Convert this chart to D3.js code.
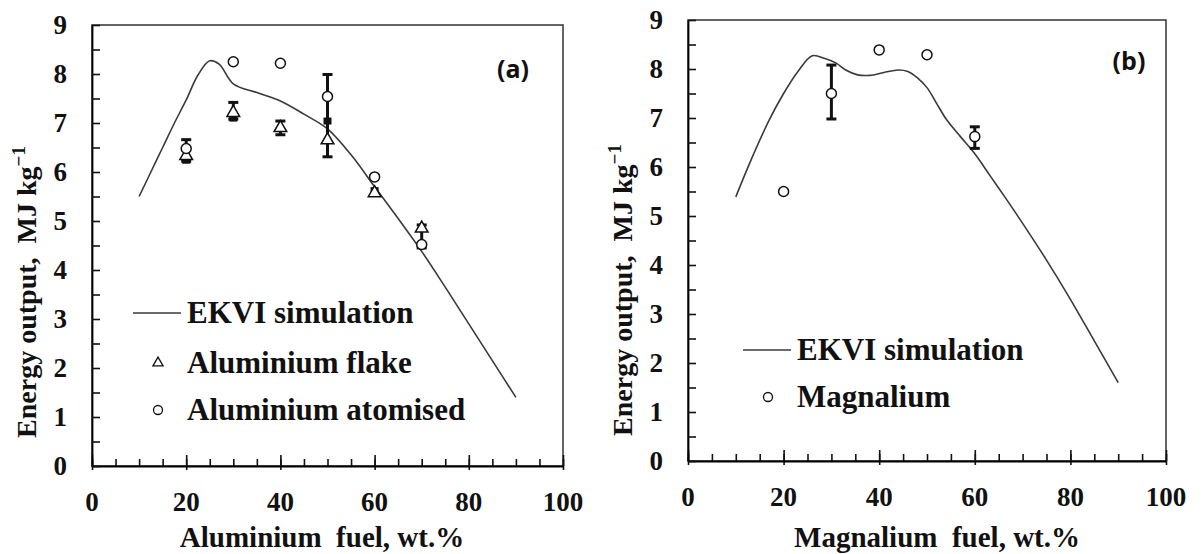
<!DOCTYPE html>
<html lang="en">
<head>
  <meta charset="UTF-8">
  <script src="https://d3js.org/d3.v7.min.js"></script>
  <style>body{margin:0}</style>
</head>
<body>
<svg width="1201" height="554"></svg>
<script>
  // tick labels
  const xTicks = [0, 20, 40, 60, 80, 100];
  const yTicks = [0, 1, 2, 3, 4, 5, 6, 7, 8, 9];

  // (a) aluminium - EKVI simulation curve
  const aluCurveX = [10, 12.5, 15, 17.5, 20, 22.5, 25, 27, 30, 35, 40, 45, 50, 55, 60, 65, 70, 75, 80, 85, 90];
  const aluCurveY = [5.5, 6.0, 6.5, 7.0, 7.47, 7.98, 8.27, 8.2, 7.8, 7.62, 7.45, 7.18, 6.88, 6.35, 5.7, 5.05, 4.38, 3.65, 2.9, 2.15, 1.4];

  // (a) measured points
  const flakeX = [20, 30, 40, 50, 60, 70];
  const flakeY = [6.33, 7.21, 6.9, 6.65, 5.57, 4.85];
  const atomX = [20, 30, 40, 50, 60, 70];
  const atomY = [6.48, 8.25, 8.22, 7.54, 5.9, 4.52];
  const aluMeanX = [20, 30, 50, 60];
  const aluMeanY = [6.24, 7.1, 7.04, 5.62];
  const aluErrX = [20, 30, 40, 50, 70];
  const aluErrLo = [6.22, 7.08, 6.76, 6.31, 4.45];
  const aluErrHi = [6.66, 7.42, 7.04, 7.99, 4.92];

  // (b) magnalium - EKVI simulation curve
  const magCurveX = [10, 13, 17, 20, 23, 26, 28.5, 31, 33, 35.5, 38, 41, 44, 46, 48, 50, 52, 54, 57, 60, 63, 66.7, 70, 75, 80, 85, 90];
  const magCurveY = [5.39, 6.1, 6.96, 7.5, 7.95, 8.27, 8.22, 8.12, 7.98, 7.88, 7.87, 7.93, 7.98, 7.95, 7.82, 7.62, 7.3, 6.98, 6.62, 6.27, 5.85, 5.33, 4.85, 4.1, 3.3, 2.45, 1.6];

  // (b) measured points
  const magX = [20, 30, 40, 50, 60];
  const magY = [5.5, 7.5, 8.39, 8.29, 6.62];
  const magErrX = [30, 60];
  const magErrLo = [6.98, 6.38];
  const magErrHi = [8.08, 6.82];

  const svg = d3.select("svg");

  function zip(xs, ys) { return xs.map((x, i) => [x, ys[i]]); }

  // all text goes straight onto the svg, Times-like bold
  function addText(x, y, str, size, anchor, family) {
    const fam = family || "Times New Roman";
    return svg.append("text")
      .attr("x", x).attr("y", y)
      .attr("text-anchor", anchor || "start")
      .attr("fill", "#111")
      .attr("font-family", fam)
      .style("font-family", `"${fam}"`)
      .style("font-weight", "bold")
      .style("font-size", size + "px")
      .text(str);
  }

  function drawPanel(p) {
    const x = d3.scaleLinear().domain([0, 100]).range([p.left, p.right]);
    const y = d3.scaleLinear().domain([0, 9]).range([p.bottom, p.top]);
    const g = svg.append("g");

    // frame
    g.append("rect")
      .attr("x", p.left).attr("y", p.top)
      .attr("width", p.right - p.left).attr("height", p.bottom - p.top)
      .attr("fill", "none").attr("stroke", "#333").attr("stroke-width", 1.5);

    // x axis: minor ticks every 5, major ticks crossing the axis
    g.append("g")
      .attr("transform", `translate(0,${p.bottom})`)
      .call(d3.axisBottom(x).tickValues(d3.range(0, 101, 5)).tickSize(-7).tickFormat(""))
      .call(a => a.select(".domain").remove());
    g.append("g")
      .attr("transform", `translate(0,${p.bottom})`)
      .call(d3.axisBottom(x).tickValues(xTicks).tickSize(4).tickFormat(""))
      .call(a => a.select(".domain").remove());
    g.append("g")
      .attr("transform", `translate(0,${p.bottom})`)
      .call(d3.axisBottom(x).tickValues(xTicks).tickSizeInner(-11).tickSizeOuter(0).tickFormat(""))
      .call(a => a.select(".domain").attr("stroke-width", 1.8));

    // y axis: ticks every 0.5
    g.append("g")
      .attr("transform", `translate(${p.left},0)`)
      .call(d3.axisLeft(y).tickValues(d3.range(0, 9.01, 0.5)).tickSizeInner(-8).tickSizeOuter(0).tickFormat(""))
      .call(a => a.select(".domain").attr("stroke-width", 1.8));

    g.selectAll(".tick line").attr("stroke", "#111").attr("stroke-width", 1.6);
    g.selectAll(".tick text").remove();

    // tick labels
    xTicks.forEach(v => addText(x(v), p.bottom + 45, String(v), 27, "middle"));
    yTicks.forEach(v => addText(p.left - 25, y(v) + 9, String(v), 27, "end"));

    // simulation curve
    const line = d3.line().x(d => x(d[0])).y(d => y(d[1])).curve(d3.curveCatmullRom);
    g.append("path")
      .datum(zip(p.curveX, p.curveY))
      .attr("d", line)
      .attr("fill", "none").attr("stroke", "#3a3a3a").attr("stroke-width", 1.6);

    // error bars
    const err = p.errX.map((v, i) => ({ x: v, lo: p.errLo[i], hi: p.errHi[i] }));
    const eb = g.append("g").selectAll("g").data(err).join("g");
    eb.append("line")
      .attr("x1", d => x(d.x)).attr("x2", d => x(d.x))
      .attr("y1", d => y(d.lo)).attr("y2", d => y(d.hi))
      .attr("stroke", "#111").attr("stroke-width", 3);
    eb.append("rect")
      .attr("x", d => x(d.x) - 5).attr("y", d => y(d.hi) - 1.5)
      .attr("width", 10).attr("height", 3).attr("fill", "#111");
    eb.append("rect")
      .attr("x", d => x(d.x) - 5).attr("y", d => y(d.lo) - 1.5)
      .attr("width", 10).attr("height", 3).attr("fill", "#111");

    // filled mean markers
    if (p.meanX) {
      g.append("g").selectAll("rect")
        .data(zip(p.meanX, p.meanY))
        .join("rect")
        .attr("x", d => x(d[0]) - 4).attr("y", d => y(d[1]) - 3.5)
        .attr("width", 8).attr("height", 7).attr("fill", "#111");
    }

    // triangles
    if (p.triX) {
      const tri = d3.symbol(d3.symbolTriangle, 70);
      g.append("g").selectAll("path")
        .data(zip(p.triX, p.triY))
        .join("path")
        .attr("transform", d => `translate(${x(d[0])},${y(d[1])})`)
        .attr("d", tri)
        .attr("fill", "#fff").attr("stroke", "#111").attr("stroke-width", 1.5);
    }

    // circles
    g.append("g").selectAll("circle")
      .data(zip(p.circX, p.circY))
      .join("circle")
      .attr("cx", d => x(d[0])).attr("cy", d => y(d[1])).attr("r", 5)
      .attr("fill", "#fff").attr("stroke", "#111").attr("stroke-width", 1.5);

    // axis titles
    addText(p.xTitleX, 547, p.xTitle, 29, "middle").style("white-space", "pre");

    const yt = addText(0, 0, "", 28, "middle")
      .attr("x", null).attr("y", null)
      .style("white-space", "pre")
      .attr("transform", `translate(${p.yTitleX},${p.yTitleY}) rotate(-90)`);
    yt.append("tspan").text("Energy output,  MJ kg");
    yt.append("tspan").attr("dy", -11).style("font-size", "19px").text("\u22121");

    // panel tag
    addText(p.tagX, p.tagY, p.tag, 25, "middle", "Open Sans");

    // legend
    p.legend.forEach((item, i) => {
      const cy = p.legY + i * p.legStep[i];
      if (item.type === "line") {
        g.append("line")
          .attr("x1", p.legX - 25).attr("x2", p.legX + 23)
          .attr("y1", cy).attr("y2", cy)
          .attr("stroke", "#3a3a3a").attr("stroke-width", 1.6);
      } else if (item.type === "tri") {
        g.append("path")
          .attr("transform", `translate(${p.legX},${cy})`)
          .attr("d", d3.symbol(d3.symbolTriangle, 45))
          .attr("fill", "#fff").attr("stroke", "#111").attr("stroke-width", 1.3);
      } else {
        g.append("circle")
          .attr("cx", p.legX).attr("cy", cy).attr("r", 4.5)
          .attr("fill", "#fff").attr("stroke", "#111").attr("stroke-width", 1.3);
      }
      addText(p.legX + 29, cy + 10, item.label, 31, "start");
    });
  }

  drawPanel({
    left: 92, right: 563, top: 25, bottom: 466,
    curveX: aluCurveX, curveY: aluCurveY,
    triX: flakeX, triY: flakeY,
    circX: atomX, circY: atomY,
    meanX: aluMeanX, meanY: aluMeanY,
    errX: aluErrX, errLo: aluErrLo, errHi: aluErrHi,
    xTitle: "Aluminium  fuel, wt.%", xTitleX: 322,
    yTitleX: 36, yTitleY: 292,
    tag: "(a)", tagX: 513, tagY: 78,
    legX: 158, legY: 313, legStep: [0, 50, 48.5],
    legend: [
      { type: "line", label: "EKVI simulation" },
      { type: "tri", label: "Aluminium flake" },
      { type: "circ", label: "Aluminium atomised" }
    ]
  });

  drawPanel({
    left: 688, right: 1166, top: 20, bottom: 461,
    curveX: magCurveX, curveY: magCurveY,
    circX: magX, circY: magY,
    errX: magErrX, errLo: magErrLo, errHi: magErrHi,
    xTitle: "Magnalium  fuel, wt.%", xTitleX: 937,
    yTitleX: 632, yTitleY: 290,
    tag: "(b)", tagX: 1129, tagY: 70,
    legX: 768, legY: 350, legStep: [0, 47],
    legend: [
      { type: "line", label: "EKVI simulation" },
      { type: "circ", label: "Magnalium" }
    ]
  });
</script>
</body>
</html>
